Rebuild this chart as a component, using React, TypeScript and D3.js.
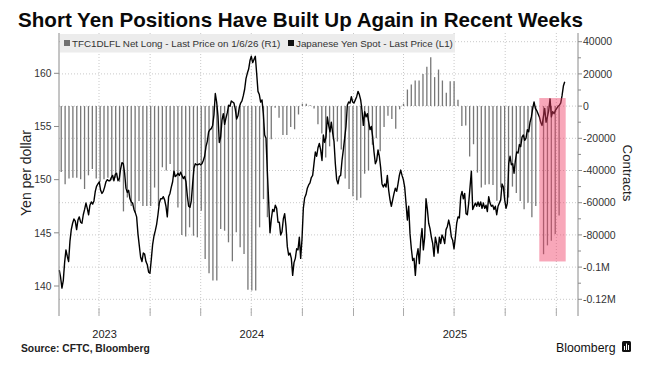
import React, { useEffect } from 'react';
import * as d3 from 'd3';

// ---------- DATA ----------
const titleText = 'Short Yen Positions Have Built Up Again in Recent Weeks';
const legendNet = 'TFC1DLFL Net Long - Last Price on 1/6/26 (R1)';
const legendYen = 'Japanese Yen Spot - Last Price (L1)';
const sourceText = 'Source: CFTC, Bloomberg';

// weekly CFTC net long (contracts), first report 2023-07-25, weekly
const cotStart = '2023-07-25';
const cotNetLong: (number | null)[] = [
  -41000, -48500, -45000, -44500, -44500, -45500, -51500, -43000, -39000, -45000,
  -47000, -45500, -44500, -46000, -44500, -47000, -65400, -56800, -62000, -66000,
  -59000, -62000, -62000, -62000, -50600, -62000, -38000, -40000, -36000, -44000,
  -63000, -80000, -81000, -75300, -80500, -81500, -65000, -95000, -103800, -108400,
  -108400, -76400, -77400, -84600, -96400, -78400, -87700, -91800, -114000, -114500,
  -114500, -75300, -57800, -69000, -20600, -1000, -7200, -18000, -18000, -13000,
  -14400, -5200, 1500, 1500, 500, -1500, -11300, -17000, -32000, -25000,
  -21000, -22000, -27000, -45000, -51500, -56000, -58500, -57000, -42000, -40000,
  -24000, -20000, -28000, -13000, -6000, -8000, -14000, -2000, 1500, 10300,
  13400, 15900, 15900, 20000, 24500, 30300, 18000, 22700, 15900, 8300,
  15500, 15500, 4000, -12400, -12000, -31300, -23700, -41300, -50600, -48800,
  -48500, -49000, -58800, -50600, -58000, -56800, -50000, -54000, -59000, -64000,
  -60000, -69000, -62000, null, -92000, -86500, -83600, -79500, -68000,
];

// USDJPY spot, sampled every 2.4 days from 2023-07-21 12:00
const yenStart = '2023-07-21T12:00:00';
const yenStepDays = 2.4;
const yenSpot = [
  141.5, 140.8, 139.8, 140.5, 142.2, 143.4, 142.8, 142.3, 144.2, 145.3,
  145.9, 146.3, 146.1, 145.3, 146.2, 146.5, 146.0, 145.9, 146.7, 147.2,
  147.8, 147.3, 146.7, 147.6, 147.9, 147.7, 148.0, 148.9, 149.4, 149.6,
  149.8, 149.0, 148.7, 148.9, 149.3, 149.8, 150.0, 149.9, 149.9, 150.2,
  150.4, 149.9, 150.5, 150.6, 149.9, 150.1, 151.0, 151.6, 151.5, 150.6,
  149.2, 148.8, 149.0, 148.2, 147.9, 147.8, 147.2, 146.9, 146.5, 144.9,
  143.8, 142.7, 142.3, 143.1, 143.0, 142.3, 142.0, 141.3, 141.2, 142.5,
  143.9, 144.7, 145.2, 145.8, 146.7, 147.8, 148.2, 148.2, 148.4, 148.1,
  147.5, 146.5, 148.4, 148.7, 149.3, 149.8, 150.8, 150.3, 150.4, 150.6,
  150.4, 150.7, 150.4, 150.1, 150.3,
  149.8, 148.5, 147.5, 147.4, 148.0,
  149.6, 151.1, 151.5, 151.4, 151.4, 151.5, 151.4, 151.5, 151.8, 152.2,
  153.1, 153.6, 154.5, 154.7, 154.8, 155.1, 156.1, 158.1, 157.3, 156.0,
  153.5, 154.0, 155.6, 156.2, 155.2, 155.8, 156.3, 157.0, 156.9, 157.4,
  157.3, 157.2, 156.6, 155.7, 156.0, 156.8, 157.2, 157.4, 157.9, 158.5,
  159.5, 160.0, 160.4, 161.2, 161.6, 161.0, 161.3, 161.6, 160.0, 158.3,
  158.0, 157.3, 157.5, 156.2, 154.2, 153.9, 150.8, 148.0, 145.0, 146.3,
  147.2, 147.0, 147.6, 147.3, 146.0, 146.0, 144.8, 145.1, 146.3, 146.8,
  145.6, 143.7, 142.9, 143.1, 142.6, 141.0, 142.2, 142.6, 143.5, 143.4,
  144.6, 142.6, 144.4, 147.3, 148.3, 148.6, 149.2, 149.5, 149.7, 150.2,
  150.4, 151.5, 152.6,
  152.2, 153.0, 153.4, 152.8, 151.8, 154.2, 153.5,
  154.0, 155.9, 155.1, 154.5, 155.4, 154.4, 153.6, 151.5, 150.0, 149.6,
  150.3, 150.4, 151.8, 152.8, 153.9, 155.0, 157.0, 157.3, 157.2, 157.8,
  157.3, 157.2, 157.5, 157.8, 158.3, 158.0, 157.5, 156.5, 155.1, 156.4,
  155.9, 156.2, 155.4, 154.7, 155.0, 154.0, 152.6, 151.5, 151.8, 152.8,
  152.2, 151.1, 149.6, 149.3, 149.6, 149.3, 150.4, 149.0, 148.1, 147.5,
  148.1, 148.7, 149.2, 148.9, 149.6, 150.4, 150.9, 150.4, 150.0, 149.3,
  147.8, 146.2, 147.5, 144.9, 143.5, 142.4, 142.6, 141.0, 142.8, 143.5,
  142.1, 144.3, 145.4, 143.4, 144.6, 148.2, 147.2, 145.9, 145.4, 144.6,
  144.0, 142.8, 144.6, 144.0, 143.1, 144.6, 144.0, 144.8, 144.5, 144.0,
  145.3, 145.6, 146.2, 145.6, 144.6, 144.3, 143.5, 144.6, 145.9, 146.5,
  146.4, 148.4, 148.9, 148.2, 148.7, 146.8, 146.7, 147.8, 149.3, 150.8,
  147.2, 147.5, 147.8, 147.5, 147.9, 147.5, 147.9, 147.3, 147.8, 147.3,
  147.6, 147.0, 148.4, 147.8, 147.5, 147.6, 147.2, 147.5, 146.7, 147.5,
  147.8, 148.1, 149.6, 149.3, 148.1, 147.3, 147.8, 151.5, 152.2, 151.4,
  151.5, 150.6, 151.8, 152.6, 152.5, 153.3, 153.1, 154.0, 154.2, 153.7,
  153.9, 154.7, 154.5, 155.4, 155.9, 156.7, 157.3, 156.7, 156.5, 156.2,
  155.9, 155.4, 155.1, 155.9, 156.7, 155.4, 155.9, 156.5, 157.6, 155.9,
  156.4, 156.2, 156.5, 156.7, 156.9, 157.0, 157.2, 157.9, 158.8, 159.2,
];

const leftTicks = [140, 145, 150, 155, 160];
const rightTicks = [40000, 20000, 0, -20000, -40000, -60000, -80000, -100000, -120000];
const rightTickLabels = ['40000', '20000', '0', '-20000', '-40000', '-60000', '-80000', '-0.1M', '-0.12M'];
const years = [2023, 2024, 2025];
const xDomain = ['2023-07-21', '2026-02-09'];
const highlightDates = ['2025-12-01T08:00:00', '2026-01-17T20:00:00'];
const highlightValues = [5000, -96500];

const FONT = '"Liberation Sans", Arial, sans-serif';

export default function App() {
  useEffect(() => {
    document.body.style.margin = '0';
  }, []);

  const x = d3.scaleTime()
    .domain([new Date(xDomain[0] + 'T00:00:00'), new Date(xDomain[1] + 'T00:00:00')])
    .range([59, 578]);
  const yL = d3.scaleLinear().domain([140, 160]).range([286, 73.3]);
  const yR = d3.scaleLinear().domain([-120000, 40000]).range([299.3, 41.7]);

  const cot0 = new Date(cotStart + 'T00:00:00');
  const bars = cotNetLong.map((v, i) => ({ date: d3.timeDay.offset(cot0, 7 * i), v }));
  const y0 = new Date(yenStart).getTime();
  const yen = yenSpot.map((v, i) => ({ date: new Date(y0 + i * yenStepDays * 864e5), v }));

  const line = d3.line<{ date: Date; v: number }>()
    .x(d => x(d.date))
    .y(d => yL(d.v));

  const quarterTicks = x.ticks(d3.timeMonth.every(3)!);
  const [d0, d1] = x.domain();
  const yearPos = years.map(yr => {
    const s = new Date(Math.max(+d0, +new Date(yr, 0, 1)));
    const e = new Date(Math.min(+d1, +new Date(yr + 1, 0, 1)));
    return { yr, cx: (x(s) + x(e)) / 2 };
  });
  const minorRight = d3.range(-120000, 40001, 10000).filter(v => v % 20000 !== 0);

  const hx0 = x(new Date(highlightDates[0]));
  const hx1 = x(new Date(highlightDates[1]));
  const hy0 = yR(highlightValues[0]);
  const hy1 = yR(highlightValues[1]);

  const grid = '#c9c9c9';
  const axisCol = '#8a8a8a';

  return (
    <svg width={646} height={366} style={{ position: 'absolute', left: 0, top: 0, background: '#fff' }}
      fontFamily={FONT}>
      <rect x={0} y={0} width={646} height={366} fill="#fff" />
      {/* title */}
      <text x={18} y={27} fontSize={20.6} fontWeight={700} fill="#0a0a0a">{titleText}</text>

      {/* gridlines */}
      {rightTicks.map(v => (
        <line key={'h' + v} x1={59} x2={578} y1={yR(v)} y2={yR(v)} stroke={grid} strokeDasharray="1,2" />
      ))}
      {quarterTicks.map(d => (
        <line key={'v' + +d} x1={x(d)} x2={x(d)} y1={33} y2={313} stroke={grid} strokeDasharray="1,2" />
      ))}

      {/* bars */}
      {bars.filter(b => b.v !== null).map((b, i) => (
        <line key={'b' + i} x1={x(b.date)} x2={x(b.date)} y1={yR(0)} y2={yR(b.v as number)}
          stroke="#777" strokeWidth={1.3} />
      ))}

      {/* yen line */}
      <path d={line(yen) || ''} fill="none" stroke="#000" strokeWidth={1.4} strokeLinejoin="round" />

      {/* highlight */}
      <rect x={hx0} y={hy0} width={hx1 - hx0} height={hy1 - hy0} fill="rgb(240,60,100)" fillOpacity={0.45} />

      {/* legend */}
      <rect x={60} y={34} width={395} height={18.5} fill="#ececec" />
      <rect x={64} y={40} width={6} height={6} fill="#707070" />
      <text x={72} y={46.5} fontSize={9.8} fill="#333">{legendNet}</text>
      <rect x={288} y={40} width={6} height={6} fill="#111" />
      <text x={296} y={46.5} fontSize={9.8} fill="#333">{legendYen}</text>

      {/* left axis */}
      <line x1={59} x2={59} y1={33} y2={316} stroke={axisCol} />
      {leftTicks.map(v => (
        <g key={'l' + v}>
          <line x1={54} x2={59} y1={yL(v)} y2={yL(v)} stroke={axisCol} />
          <text x={51.5} y={yL(v)} dy="0.36em" textAnchor="end" fontSize={10.3} fill="#333">{v}</text>
        </g>
      ))}
      <text transform="translate(31,173) rotate(-90)" textAnchor="middle" fontSize={14} fill="#222">Yen per dollar</text>

      {/* right axis */}
      <line x1={578} x2={578} y1={33} y2={316} stroke={axisCol} />
      {rightTicks.map((v, i) => (
        <g key={'r' + v}>
          <line x1={578} x2={582} y1={yR(v)} y2={yR(v)} stroke={axisCol} />
          <text x={583} y={yR(v)} dy="0.36em" fontSize={10.5} fill="#333">{rightTickLabels[i]}</text>
        </g>
      ))}
      {minorRight.map(v => (
        <line key={'m' + v} x1={578} x2={581} y1={yR(v)} y2={yR(v)} stroke={axisCol} />
      ))}
      <text transform="translate(623,173) rotate(90)" textAnchor="middle" fontSize={13.3} fill="#222">Contracts</text>

      {/* bottom ticks */}
      {quarterTicks.map(d => (
        <line key={'t' + +d} x1={x(d)} x2={x(d)} y1={308} y2={316} stroke="#aaa" />
      ))}
      {yearPos.map(p => (
        <text key={'y' + p.yr} x={p.cx} y={337.5} textAnchor="middle" fontSize={11} fill="#222">{p.yr}</text>
      ))}

      {/* footer */}
      <text x={21} y={352} fontSize={10.3} fontWeight={700} fill="#222">{sourceText}</text>
      <text x={556} y={352} fontSize={12.3} fill="#111">Bloomberg</text>
      <g transform="translate(622,341)">
        <rect x={0} y={0} width={9} height={11} rx={1.5} fill="#111" />
        <line x1={2.5} x2={2.5} y1={5} y2={9} stroke="#fff" strokeWidth={1} />
        <line x1={4.5} x2={4.5} y1={2.5} y2={9} stroke="#fff" strokeWidth={1} />
        <line x1={6.5} x2={6.5} y1={4} y2={9} stroke="#fff" strokeWidth={1} />
      </g>
    </svg>
  );
}
